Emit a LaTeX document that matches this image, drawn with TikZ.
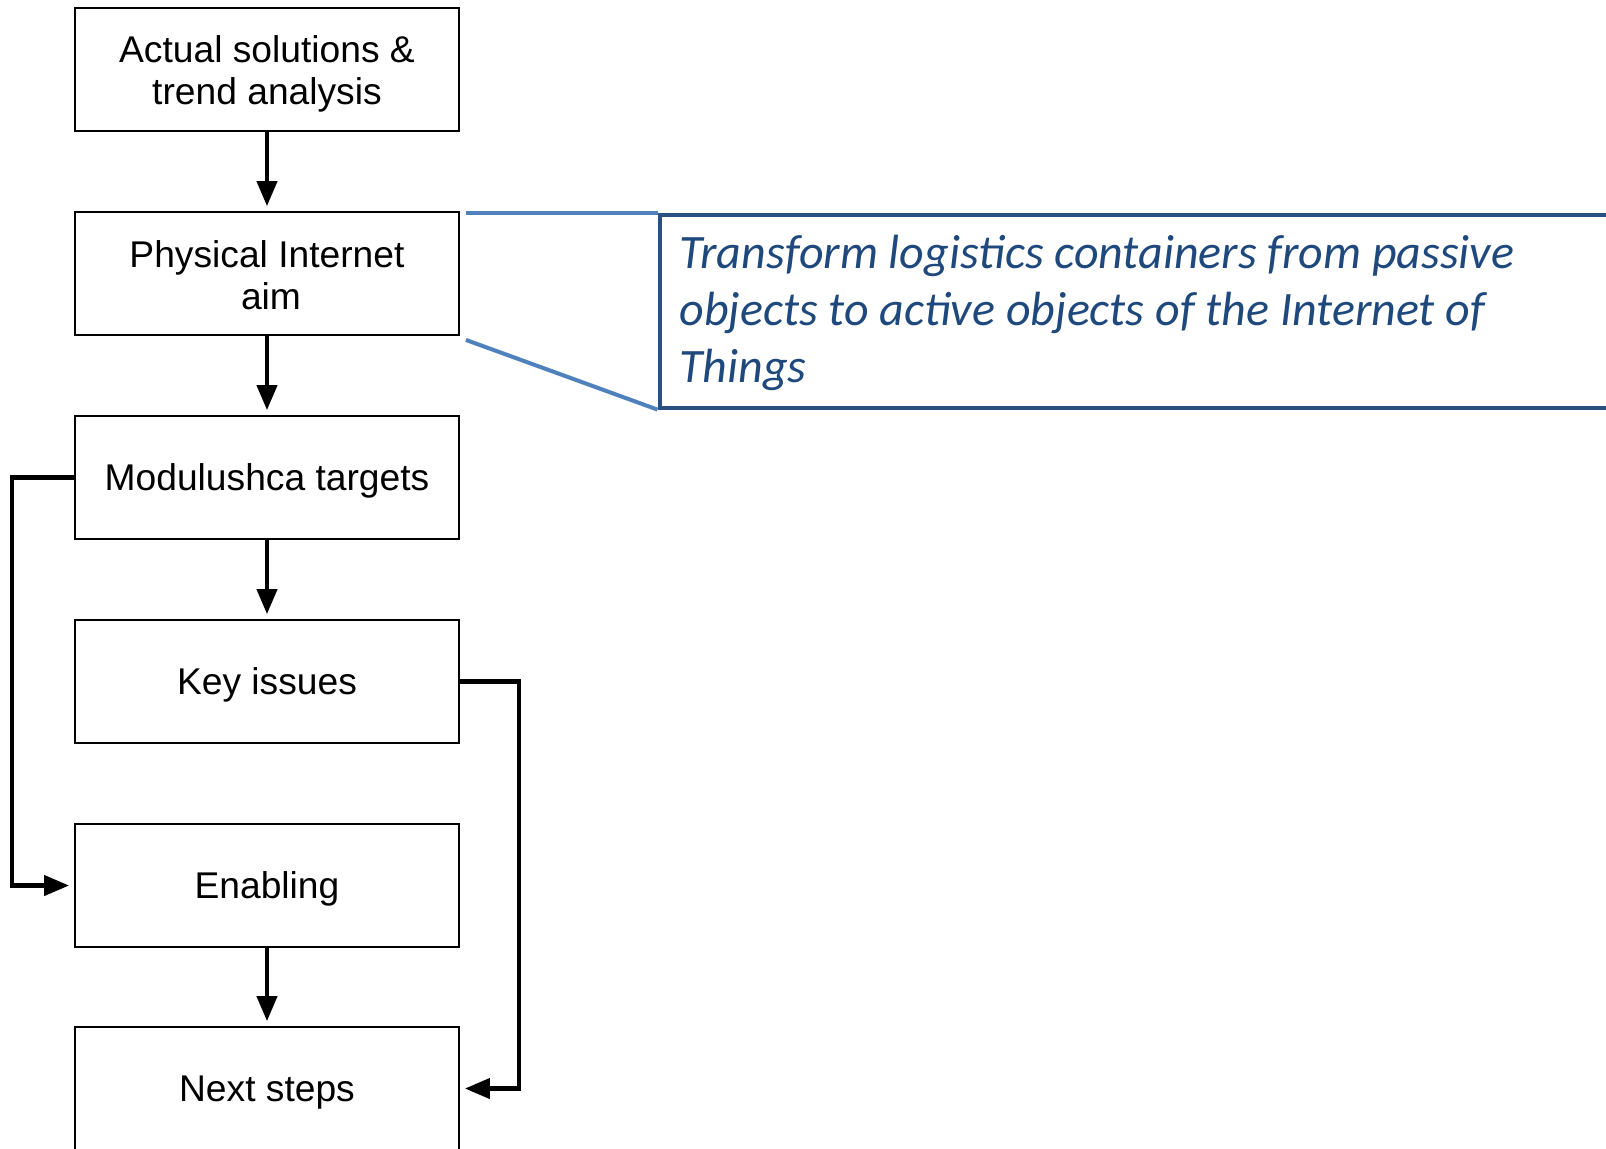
\documentclass[tikz,border=0pt]{standalone}
\usepackage{fontspec}
\setmainfont{Liberation Sans}
\newfontfamily\calloutfont{Carlito}
\usetikzlibrary{arrows.meta}
\definecolor{calloutedge}{HTML}{2A4F82}
\definecolor{leaderline}{HTML}{4F81BD}
\definecolor{callouttext}{HTML}{1F497D}
% extra headroom on the first line lowers the text inside a box a little
\newcommand{\headroom}[1]{\rule{0pt}{#1}}

\begin{document}
\begin{tikzpicture}[x=0.5pt,y=-0.5pt,
  stage/.style={draw=black, line width=0.9pt, minimum width=192pt,
    minimum height=61.5pt, inner sep=0pt, align=center,
    font=\fontsize{18.6}{21}\selectfont},
  flow/.style={line width=2.1pt, -{Triangle[length=12.5pt,width=10pt]},
    shorten >=2.5pt},
  leader/.style={draw=leaderline, line width=2pt},
  notebox/.style={draw=calloutedge, line width=2pt, anchor=north west,
    minimum width=500pt, minimum height=96.3pt, inner sep=0pt},
  noteline/.style={anchor=base west, inner sep=0pt, text=callouttext,
    font=\calloutfont\itshape\fontsize{24}{29}\selectfont}
]
\useasboundingbox (0,0) rectangle (1606,1148);

% main chain of stages
\node[stage] (s1) at (267,69.5)  {\headroom{17.6pt}Actual solutions \&\\trend analysis};
\node[stage] (s2) at (267,273.5) {\headroom{15pt}Physical Internet\\\hspace*{4pt}aim};
\node[stage] (s3) at (267,477.5)  {\headroom{17pt}Modulushca targets};
\node[stage] (s4) at (267,681.5)  {\headroom{17pt}Key issues};
\node[stage] (s5) at (267,885.5)  {\headroom{17pt}Enabling};
\node[stage] (s6) at (267,1088.5) {\headroom{17pt}Next steps};

\draw[flow] (s1) -- (s2);
\draw[flow] (s2) -- (s3);
\draw[flow] (s3) -- (s4);
\draw[flow] (s5) -- (s6);

% bypass connectors
\draw[flow] (s3.west) -- ++(-62,0) |- (s5.west);
\draw[flow] (s4.east) -- ++(59,0) |- (s6.east);

% callout explaining the aim
\node[notebox] (note) at (657.5,213) {};
\draw[leader] ([xshift=3pt]s2.north east |- note.north west) -- (note.north west);
\draw[leader] ([xshift=3pt,yshift=-2pt]s2.south east) -- (note.south west);

\node[noteline] (n1) at (679,268) {Transform logistics containers from passive};
\node[noteline] (n2) at (679,325) {objects to active objects of the Internet of};
\node[noteline] (n3) at (679,382) {Things};
\end{tikzpicture}
\end{document}
